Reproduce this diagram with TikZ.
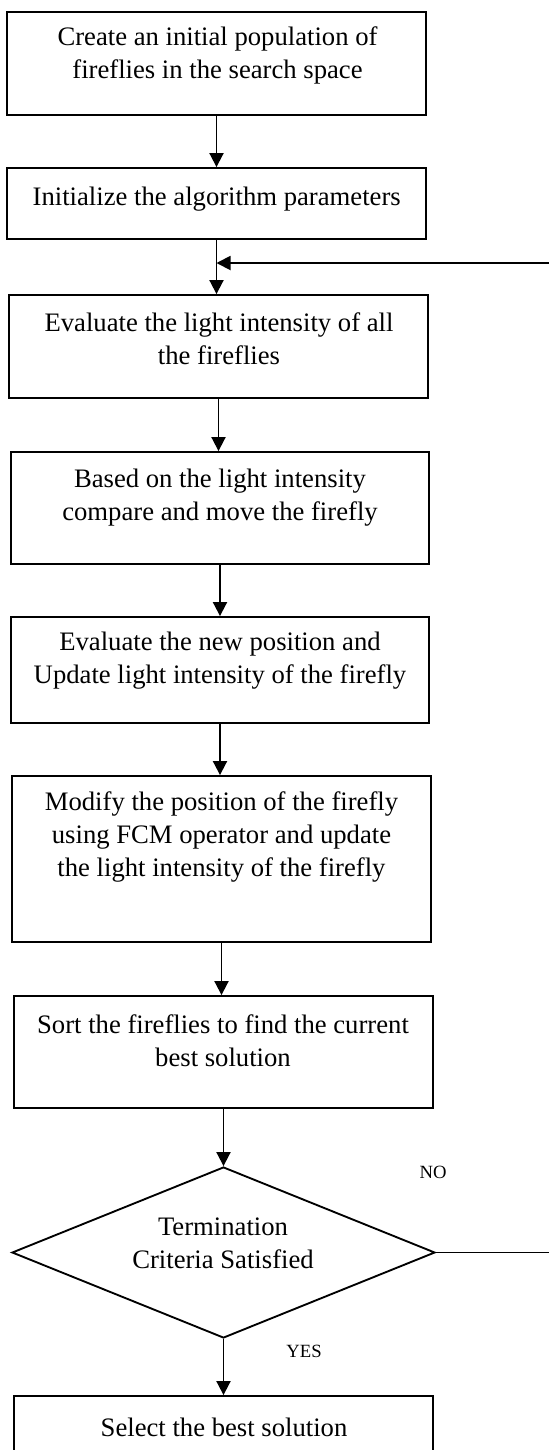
\documentclass[tikz,border=0pt]{standalone}
\usepackage{fontspec}
\setmainfont{Liberation Serif}
\usetikzlibrary{arrows.meta,shapes.geometric}
\tikzset{
  boxshape/.style={draw,rectangle,line width=1.4pt,inner sep=0pt},
  decshape/.style={draw,diamond,line width=1.4pt,inner sep=0pt},
  boxtext/.style={align=center,inner sep=0pt,font=\fontsize{20}{24.75}\selectfont},
  smalltext/.style={inner sep=0pt,font=\fontsize{14}{16}\selectfont},
  flow/.style={line width=1.4pt,-{Triangle[length=10.5pt,width=10.5pt]}},
  plain/.style={line width=1.4pt}
}
\begin{document}
\begin{tikzpicture}[x=0.75pt,y=-0.75pt]
\useasboundingbox (0,0) rectangle (549,1450);
\clip (0,0) rectangle (549,1450);
% boxes
\node[boxshape,minimum width=419*0.75pt,minimum height=103*0.75pt] (b1) at (216.5,63.5) {};
\node[boxshape,minimum width=419*0.75pt,minimum height=71*0.75pt] (b2) at (216.5,203.5) {};
\node[boxshape,minimum width=419*0.75pt,minimum height=103*0.75pt] (b3) at (218.5,346.5) {};
\node[boxshape,minimum width=418*0.75pt,minimum height=112*0.75pt] (b4) at (220,508) {};
\node[boxshape,minimum width=418*0.75pt,minimum height=106*0.75pt] (b5) at (220,670) {};
\node[boxshape,minimum width=419*0.75pt,minimum height=166*0.75pt] (b6) at (221.5,859) {};
\node[boxshape,minimum width=419*0.75pt,minimum height=112*0.75pt] (b7) at (223.5,1052) {};
\node[decshape,minimum width=423*0.75pt,minimum height=171*0.75pt] (d) at (223.5,1252.5) {};
\node[boxshape,minimum width=419*0.75pt,minimum height=90*0.75pt] (b8) at (223.5,1441) {};
% texts
\node[boxtext] (t1) at (217.5,55) {Create an initial population of\\fireflies in the search space};
\node[boxtext] (t2) at (216.7,199) {Initialize the algorithm parameters};
\node[boxtext] (t3) at (219,339) {Evaluate the light intensity of all\\the fireflies};
\node[boxtext] (t4) at (220,498) {Based on the light intensity\\compare and move the firefly};
\node[boxtext] (t5) at (220,661) {Evaluate the new position and\\Update light intensity of the firefly};
\node[boxtext] (t6) at (221.5,837) {Modify the position of the firefly\\using FCM operator and update\\the light intensity of the firefly};
\node[boxtext] (t7) at (223,1041) {Sort the fireflies to find the current\\best solution};
\node[boxtext] (td) at (223,1243) {Termination\\Criteria Satisfied};
\node[boxtext] (t8) at (224,1427) {Select the best solution};
\node[smalltext] (no) at (433,1172) {NO};
\node[smalltext] (yes) at (304,1351) {YES};
% connectors
\draw[flow] (b1.south) -- (b1.south |- b2.north);
\draw[flow] (b2.south) -- (b2.south |- b3.north);
\draw[flow] (b3.south) -- (b3.south |- b4.north);
\draw[flow] (b4.south) -- (b4.south |- b5.north);
\draw[flow] (b5.south) -- (b5.south |- b6.north);
\draw[flow] (b6.south) -- (b6.south |- b7.north);
\draw[flow] (b7.south) -- (b7.south |- d.north);
\draw[flow] (d.south) -- (d.south |- b8.north);
\coordinate (noend) at (549,1252.5);
\coordinate (loopin) at (549,263);
\coordinate (join) at (b2.south |- loopin);
\draw[plain] (d.east) -- (noend);
\draw[flow] (loopin) -- (join);
\end{tikzpicture}
\end{document}
